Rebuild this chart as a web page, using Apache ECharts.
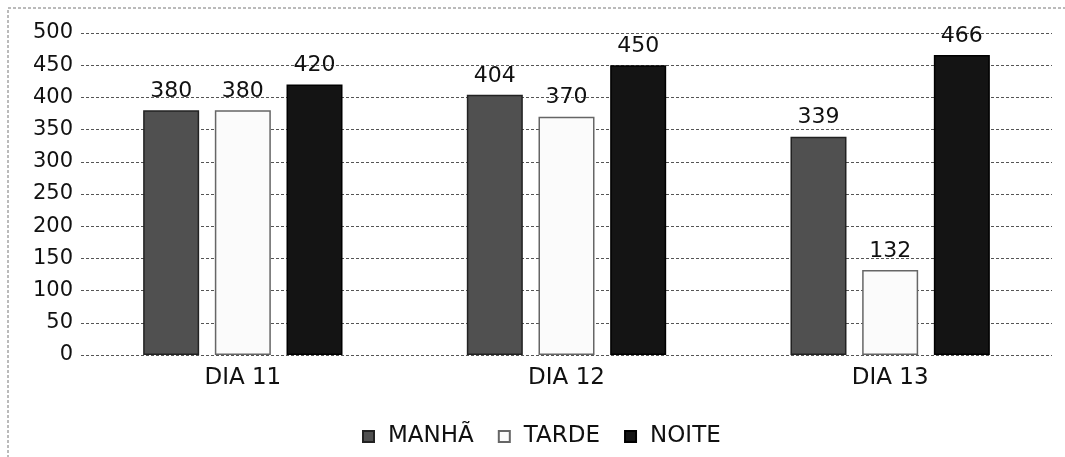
<!DOCTYPE html>
<html><head><meta charset="utf-8">
<script src="https://cdn.jsdelivr.net/npm/echarts@6/dist/echarts.min.js"></script>
<style>html,body{margin:0;padding:0;background:#fff}#c{width:1065px;height:457px}</style>
</head><body><div id="c"></div>
<script>
var categories = ['DIA 11', 'DIA 12', 'DIA 13'];
var seriesNames = ['MANHÃ', 'TARDE', 'NOITE'];
var manha = [380, 404, 339];
var tarde = [380, 370, 132];
var noite = [420, 450, 466];
var yTicks = [0, 50, 100, 150, 200, 250, 300, 350, 400, 450, 500];

var chart = echarts.init(document.getElementById('c'), null, {renderer: 'canvas'});
var font = '"DejaVu Sans", sans-serif';
function mk(name, data, color, border) {
  return {
    name: name, type: 'bar', data: data,
    barWidth: 56, barGap: '28%',
    itemStyle: {color: color, borderColor: border, borderWidth: 1.5},
    label: {show: true, position: 'top', distance: 8, color: '#111', fontSize: 22, fontFamily: font}
  };
}
chart.setOption({
  animation: false,
  backgroundColor: '#fff',
  graphic: [{type: 'rect', shape: {x: 8, y: 8, width: 1070, height: 460},
    style: {fill: null, stroke: '#777', lineWidth: 1, lineDash: [3, 2]}, silent: true}],
  grid: {left: 81, right: 13, top: 33, bottom: 102, containLabel: false},
  legend: {
    data: seriesNames, top: 420, left: 357, itemWidth: 11, itemHeight: 11, itemGap: 24,
    textStyle: {fontSize: 23, fontFamily: font, color: '#111', padding: [0, 0, 0, 9]},
    icon: 'rect'
  },
  xAxis: {
    type: 'category', data: categories,
    axisLine: {show: false}, axisTick: {show: false},
    axisLabel: {fontSize: 23, fontFamily: font, color: '#111', margin: 12}
  },
  yAxis: {
    type: 'value', min: yTicks[0], max: yTicks[yTicks.length - 1], interval: 50,
    axisLine: {show: false}, axisTick: {show: false},
    axisLabel: {fontSize: 21, fontFamily: font, color: '#111', margin: 8},
    splitLine: {show: true, lineStyle: {color: '#555', type: [3, 2], width: 1}}
  },
  series: [
    mk(seriesNames[0], manha, '#505050', '#222'),
    mk(seriesNames[1], tarde, '#fbfbfb', '#666'),
    mk(seriesNames[2], noite, '#141414', '#000')
  ]
});
</script></body></html>
